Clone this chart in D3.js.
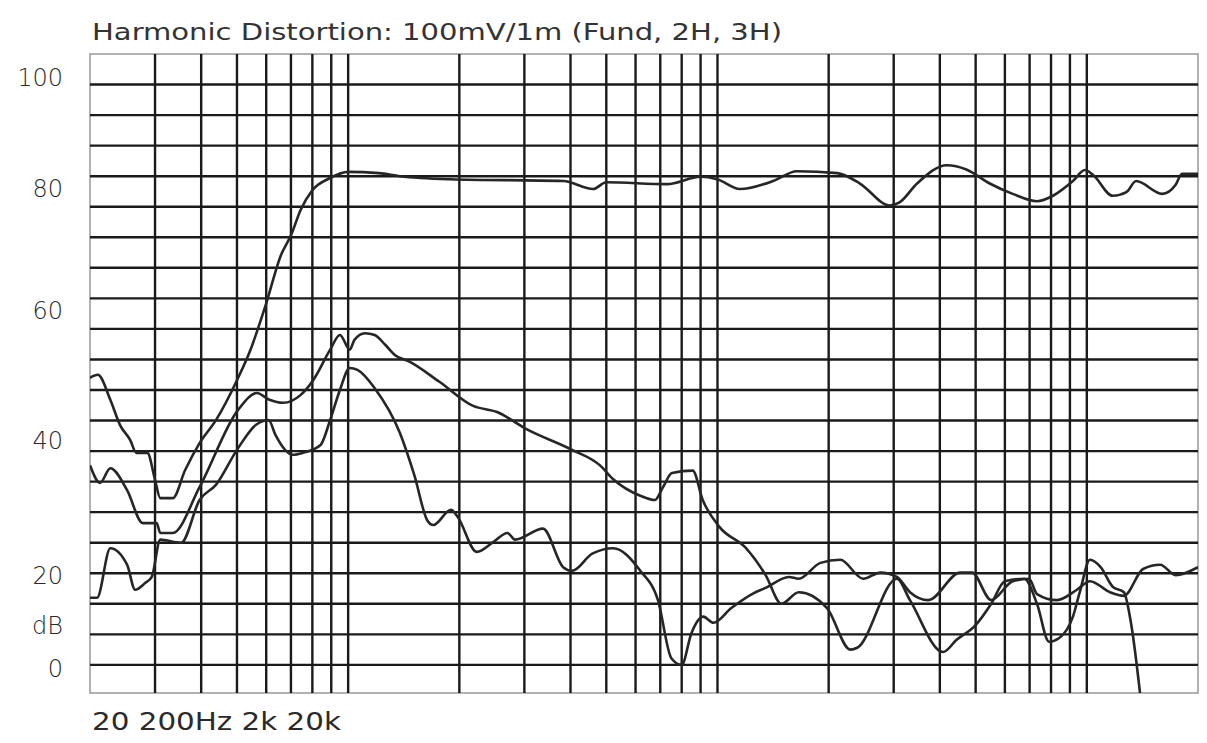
<!DOCTYPE html>
<html><head><meta charset="utf-8">
<script src="https://cdn.jsdelivr.net/npm/d3@7"></script>
<style>body{margin:0;background:#fff}</style></head>
<body><svg id="c" width="1207" height="743"></svg>
<script>
const title = "Harmonic Distortion: 100mV/1m (Fund, 2H, 3H)";
const xLabel = "20 200Hz 2k 20k";
const yLabels = ["100","80","60","40","20","dB","0"];
const yLabelPos = [96.1,78,58.1,36.8,14.7,6.5,-0.5];
const xGrid = [30,40,50,60,70,80,90,100,200,300,400,500,600,700,800,900,1000,2000,3000,4000,5000,6000,7000,8000,9000,10000];
const yGrid = d3.range(0,100,5);
const fund = [[20,47],[21,47.5],[22.7,43.4],[24.1,39.3],[25.7,36.8],[26.7,34.7],[28.6,34.7],[30,30.3],[31,27.3],[33.5,27.3],[36.2,31.9],[39.6,36.3],[43.9,40.1],[50,46.6],[54.4,51.6],[59.8,58.9],[65.8,67.1],[70.1,70.4],[74.4,74.5],[80,77.7],[89.4,79.7],[100,80.7],[121,80.5],[138,80],[189,79.5],[382,79.2],[461,77.9],[500,79],[730,78.7],[900,79.9],[998,79.5],[1150,77.9],[1414,79.2],[1640,80.8],[2108,80.5],[2430,78.8],[2930,75.2],[3110,75.7],[3470,78.8],[4180,81.8],[4720,81.1],[5460,78.8],[6300,77.1],[7330,75.9],[8100,76.8],[9170,79.2],[9880,81],[10400,80.2],[11750,76.8],[12800,77.4],[13600,79.2],[16000,77.1],[17400,78.6],[18100,80.4],[20000,80.4]];
const h2 = [[20,32.7],[21.3,29.8],[22.7,32.2],[25.2,28.6],[27.8,23.2],[30.3,23.2],[31,21.6],[33.5,21.6],[39.6,29.1],[50.3,41.7],[56.6,44.5],[61.2,43.4],[66.6,42.9],[74.4,44.2],[80.4,46.6],[89.4,51.6],[95,54],[101,51.6],[104,53.2],[111,54.3],[118,54],[126,52.4],[134,50.7],[147,49.6],[177,46.3],[218,42.4],[253,41.4],[304,38.6],[404,35.2],[480,32.7],[522,30.4],[618,27.7],[677,27],[712,29.1],[753,31.4],[857,31.8],[912,27],[1012,22.6],[1195,19.1],[1350,14.7],[1490,10],[1660,11.9],[1980,9.3],[2290,2.5],[2390,2.8],[3060,14.1],[3320,10.6],[4080,2.1],[4440,4.1],[5000,6.5],[5510,10],[6000,13.7],[6770,14.1],[7330,10],[7900,3.8],[8420,4.4],[9170,7.9],[9570,11.9],[10200,17.2],[10900,16],[11750,12.8],[12600,11.9],[13200,6.5],[14000,-5.7]];
const h3 = [[20,11],[20.9,11],[22.7,19.1],[25.2,16.4],[26.5,12.3],[28.2,13.4],[29.4,14.4],[31,20.5],[35.3,20],[39.6,27],[43.9,29.5],[50,35.2],[56.3,39.3],[60.9,40.1],[63.6,37.6],[70.8,34.4],[75.3,34.7],[84.2,36],[89.4,40.1],[95,45],[101,48.6],[106,48.3],[118,45.3],[138,38],[151,31.1],[164,23.6],[170,22.9],[190,25.4],[198,24.2],[223,18.5],[247,20.1],[270,21.6],[283,20.5],[337,22.3],[382,16],[404,15.4],[458,18.2],[522,19.1],[618,15.4],[690,10.6],[750,1.1],[800,0],[850,5.2],[915,7.9],[975,6.9],[1090,9.3],[1240,11.6],[1350,12.6],[1560,14.4],[1660,14.1],[1900,16.7],[2150,17.2],[2480,14.1],[2760,15.1],[3060,14.4],[3320,11.9],[3720,10.6],[4540,15.1],[4890,15.1],[5510,10.6],[6300,13.7],[6980,14.1],[7330,11.6],[8300,10.6],[9400,12.3],[10200,13.7],[11550,11.9],[12600,11.3],[14200,15.7],[15800,16.4],[17400,14.7],[20000,16]];

const svg = d3.select("#c");
const L=90,R=1198,T=54,B=693;
const x = d3.scaleLog().domain([20,20000]).range([L,R]);
const y = d3.scaleLinear().domain([-4.6,100]).range([B,T]);
const font = "'DejaVu Sans', 'Open Sans', sans-serif";

svg.append("defs").append("clipPath").attr("id","cp").append("rect")
  .attr("x",L).attr("y",T).attr("width",R-L).attr("height",B-T);

svg.append("rect").attr("x",L).attr("y",T).attr("width",R-L).attr("height",B-T)
  .attr("fill","none").attr("stroke","#999").attr("stroke-width",1.5);

svg.append("g").selectAll("line").data(yGrid).join("line")
  .attr("x1",L).attr("x2",R).attr("y1",d=>y(d)).attr("y2",d=>y(d))
  .attr("stroke","#1a1a1a").attr("stroke-width",2.4);
svg.append("g").selectAll("line").data(xGrid).join("line")
  .attr("y1",T).attr("y2",B).attr("x1",d=>x(d)).attr("x2",d=>x(d))
  .attr("stroke","#1a1a1a").attr("stroke-width",2.4);

const line = d3.line().x(d=>x(d[0])).y(d=>y(d[1])).curve(d3.curveMonotoneX);
const g = svg.append("g").attr("clip-path","url(#cp)");
[fund,h2,h3].forEach(s=>g.append("path").attr("d",line(s)).attr("fill","none")
  .attr("stroke","#262626").attr("stroke-width",2.6).attr("stroke-linejoin","round"));

svg.append("g").selectAll("text").data(yLabels).join("text")
  .attr("x",63).attr("y",(d,i)=>y(yLabelPos[i])).attr("dy","0.36em")
  .attr("text-anchor","end").attr("font-family",font).attr("font-size",24)
  .attr("font-weight",300).attr("fill","#2a2a2a").text(d=>d);

svg.append("text").attr("x",92).attr("y",40).attr("font-family",font)
  .attr("font-size",23).attr("fill","#333").attr("textLength",690)
  .attr("lengthAdjust","spacingAndGlyphs").text(title);
svg.append("text").attr("x",92).attr("y",730).attr("font-family",font)
  .attr("font-size",24).attr("fill","#2a2a2a").attr("textLength",249)
  .attr("lengthAdjust","spacingAndGlyphs").text(xLabel);
</script></body></html>
